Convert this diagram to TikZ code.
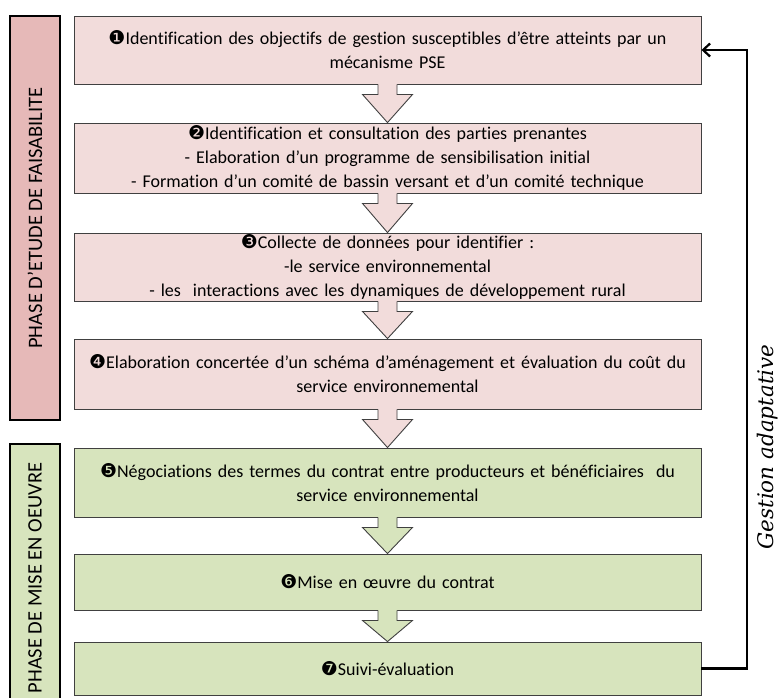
\documentclass[tikz,border=0pt]{standalone}
\usepackage{fontspec}
\setmainfont{Carlito}[Ligatures=NoCommon]
\newfontfamily\dingfont{DejaVu Sans}
\newfontfamily\gestfont{DejaVu Serif}
\usetikzlibrary{calc,arrows.meta}
\definecolor{rosebox}{HTML}{F2DCDB}
\definecolor{rosebar}{HTML}{E6B9B8}
\definecolor{vertbox}{HTML}{D7E4BD}
\definecolor{bord}{HTML}{404040}
\newcommand{\stepno}[1]{{\dingfont\fontsize{19}{19}\selectfont #1}}
\newcommand{\blockarrow}[3]{%
  \fill[#3] ($(#1.south)+(-9.5,-1)$) -- ($(#1.south)+(-9.5,10)$) -- ($(#1.south)+(-25,10)$) -- (#2.north)
    -- ($(#1.south)+(25,10)$) -- ($(#1.south)+(9.5,10)$) -- ($(#1.south)+(9.5,-1)$) -- cycle;
  \draw[bord,line width=0.9pt,line join=miter] ($(#1.south)+(-9.5,0)$) -- ($(#1.south)+(-9.5,10)$) -- ($(#1.south)+(-25,10)$)
    -- (#2.north) -- ($(#1.south)+(25,10)$) -- ($(#1.south)+(9.5,10)$) -- ($(#1.south)+(9.5,0)$);}
\begin{document}
\begin{tikzpicture}[x=1pt,y=-1pt,>={Straight Barb[length=7pt,width=13pt]},
  box/.style={draw=bord,line width=0.9pt,minimum width=627pt,text width=620pt,align=center,inner sep=0pt,
    font=\fontsize{18}{24}\selectfont},
  phasebar/.style={draw=black,line width=2.5pt,rotate=90,minimum height=50pt,inner sep=0pt,
    font=\fontsize{20.5}{20.5}\selectfont}]
	\clip (0,0) rectangle (780,697);
	\fill[white] (0,0) rectangle (780,697);
	\node[phasebar,fill=rosebar,minimum width=404pt] (ph1) at (35,218) {PHASE D’ETUDE DE FAISABILITE};
	\node[phasebar,fill=vertbox,minimum width=268pt] (ph2) at (35,578) {PHASE DE MISE EN OEUVRE};
	\node[box,fill=rosebox,minimum height=68pt] (b1) at (387.5,50) {\stepno{❶}Identification des objectifs de gestion susceptibles d’être atteints par un\\ mécanisme PSE};
	\node[box,fill=rosebox,minimum height=70pt] (b2) at (387.5,158) {\stepno{❷}Identification et consultation des parties prenantes\\ - Elaboration d’un programme de sensibilisation initial\\ - Formation d’un comité de bassin versant et d’un comité technique};
	\node[box,fill=rosebox,minimum height=68pt] (b3) at (387.5,267) {\stepno{❸}Collecte de données pour identifier :\\ -le service environnemental\\ - les\ \ interactions avec les dynamiques de développement rural};
	\node[box,fill=rosebox,minimum height=70pt] (b4) at (387.5,374) {\stepno{❹}Elaboration concertée d’un schéma d’aménagement et évaluation du coût du\\ service environnemental};
	\node[box,fill=vertbox,minimum height=69pt] (b5) at (387.5,482.5) {\stepno{❺}Négociations des termes du contrat entre producteurs et bénéficiaires\ \ du\\ service environnemental};
	\node[box,fill=vertbox,minimum height=56pt] (b6) at (387.5,582) {\stepno{❻}Mise en œuvre du contrat};
	\node[box,fill=vertbox,minimum height=53pt] (b7) at (387.5,668.5) {\stepno{❼}Suivi-évaluation};
	\blockarrow{b1}{b2}{rosebox}
	\blockarrow{b2}{b3}{rosebox}
	\blockarrow{b3}{b4}{rosebox}
	\blockarrow{b4}{b5}{rosebox}
	\blockarrow{b5}{b6}{vertbox}
	\blockarrow{b6}{b7}{vertbox}
	\coordinate (back) at (747,0);
	\draw[->,line width=2.2pt] (b7.east) -- (b7.east -| back) -- (b1.east -| back) -- (b1.east);
	\node[rotate=90,font=\gestfont\itshape\fontsize{21.5}{21.5}\selectfont] (gest) at (768,447) {Gestion adaptative};
\end{tikzpicture}
\end{document}
